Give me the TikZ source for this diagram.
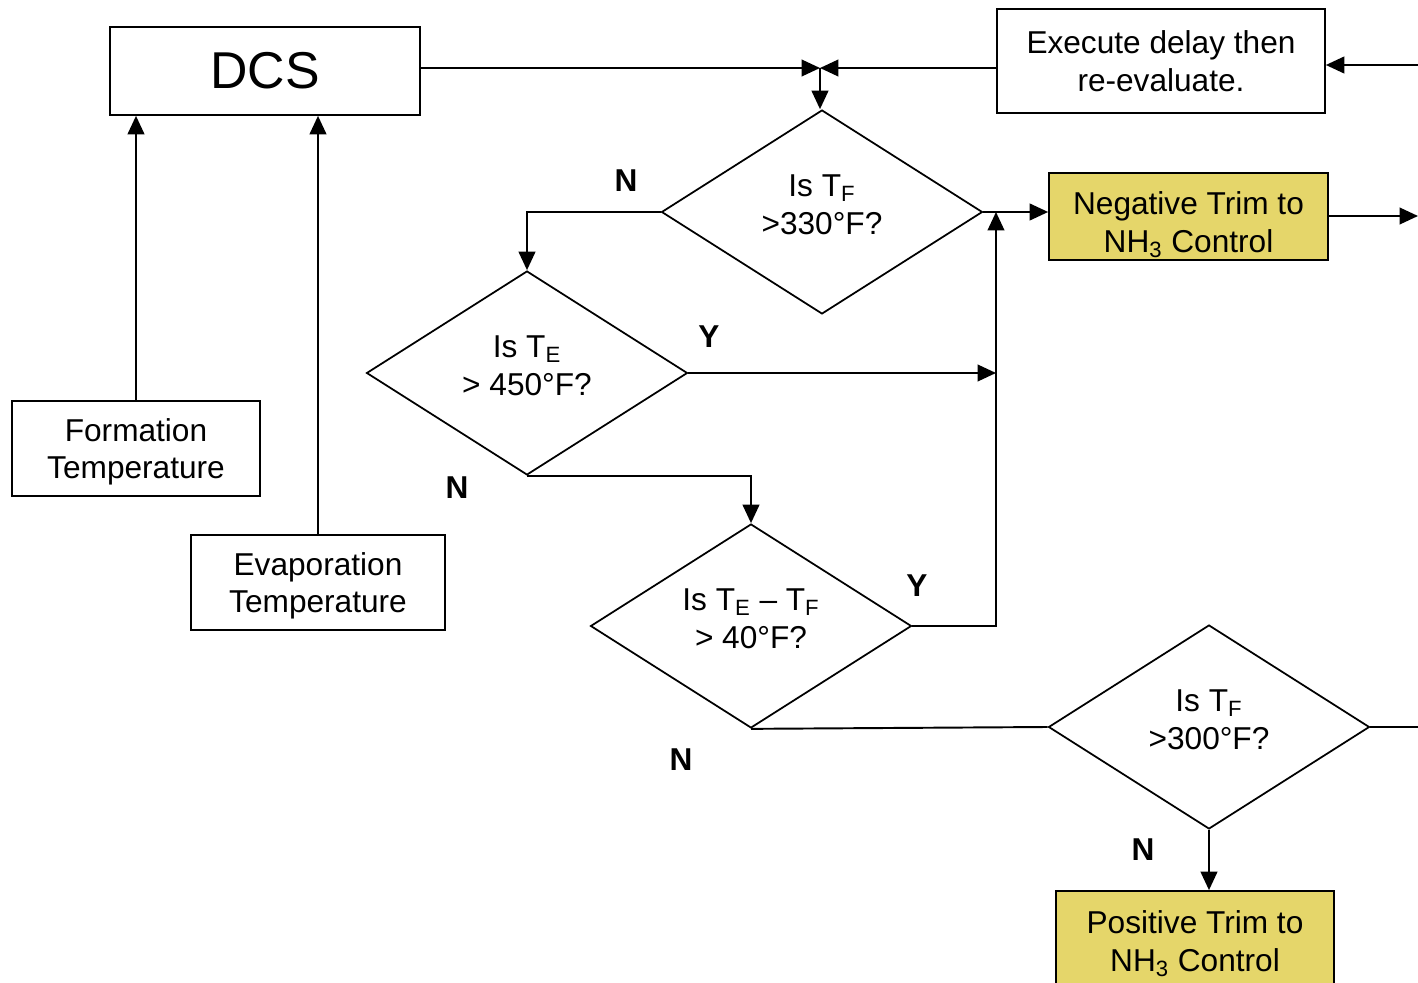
\documentclass[tikz,border=0pt]{standalone}
\usepackage{fontspec}
\setmainfont{Liberation Sans}
\usetikzlibrary{positioning,arrows.meta,shapes.geometric}
\definecolor{trimyellow}{RGB}{229,214,106}

\begin{document}
\begin{tikzpicture}[
  x=0.02cm, y=-0.02cm,
  font=\fontsize{18}{21.5}\selectfont,
  box/.style={draw, line width=1pt, align=center, inner sep=2pt},
  trim/.style={box, fill=trimyellow},
  decide/.style={diamond, aspect=1.57, draw, line width=1pt, align=center, inner sep=0pt,
                 text depth=8pt, minimum width=6.42cm, minimum height=4.08cm},
  arr/.style={-{Triangle[length=10.5pt,width=9.5pt]}, line width=1.1pt},
  wire/.style={line width=1.1pt},
  yn/.style={font=\fontsize{18}{21.5}\selectfont\bfseries}
]
\clip (0,0) rectangle (1418,983);

\node[box, minimum width=6.2cm, minimum height=1.76cm,
      font=\fontsize{29.5}{34}\selectfont] (dcs) at (265,71) {DCS};
\node[box, minimum width=6.56cm, minimum height=2.08cm] (delay) at (1161,61)
      {Execute delay then\\re-evaluate.};
\node[box, minimum width=4.96cm, minimum height=1.9cm, text depth=0pt] (formT) at (136,448.5)
      {Formation\\Temperature};
\node[box, minimum width=5.08cm, minimum height=1.9cm, text depth=0pt] (evapT) at (318,582.5)
      {Evaporation\\Temperature};

\node[decide] (tf330) at (822,212) {Is T\textsubscript{F}\\>330°F?};
\node[decide] (te450) at (527,373) {Is T\textsubscript{E}\\> 450°F?};
\node[decide] (dte40) at (751,626) {Is T\textsubscript{E} – T\textsubscript{F}\\> 40°F?};
\node[decide] (tf300) at (1209,727) {Is T\textsubscript{F}\\>300°F?};

\node[trim, minimum width=5.58cm, minimum height=1.74cm, text height=41pt, text depth=0pt] (negtrim) at (1188.5,216.5)
      {Negative Trim to\\NH\textsubscript{3} Control};
\node[trim, minimum width=5.56cm, minimum height=2cm, text depth=0pt] (postrim) at (1195,941)
      {Positive Trim to\\NH\textsubscript{3} Control};

%% free ends and joins
\coordinate (merge) at (820,68);
\coordinate (riser) at (996,212);
\coordinate (fromR) at (1418,65);
\coordinate (toR1)  at (1418,216);
\coordinate (toR2)  at (1418,727);

\draw[arr] (formT.north) -- (formT.north |- dcs.south);
\draw[arr] (evapT.north) -- (evapT.north |- dcs.south);
\draw[arr] (dcs.east |- merge) -- (merge);
\draw[arr] (delay.west |- merge) -- (merge);
\draw[arr] (merge) -- (merge |- tf330.north);
\draw[arr] (fromR) -- (fromR -| delay.east);
\draw[arr] (tf330.east) -- (tf330.east -| negtrim.west);
\draw[arr] (negtrim.east |- toR1) -- (toR1);
\draw[arr] (tf330.west) -| (te450.north);
\draw[arr] (te450.east) -- (te450.east -| riser);
\draw[arr] (te450.south) -| (dte40.north);
\draw[arr] (dte40.east) -| (riser);
\draw[wire] (dte40.south) -- (tf300.west);
\draw[wire] (tf300.east) -- (toR2);
\draw[arr] (tf300.south) -- (tf300.south |- postrim.north);

\node[yn] (n330) at (626,181) {N};
\node[yn] (y450) at (709,337) {Y};
\node[yn] (n450) at (457,488) {N};
\node[yn] (y40)  at (917,586) {Y};
\node[yn] (n40)  at (681,760) {N};
\node[yn] (n300) at (1143,850) {N};
\end{tikzpicture}
\end{document}
